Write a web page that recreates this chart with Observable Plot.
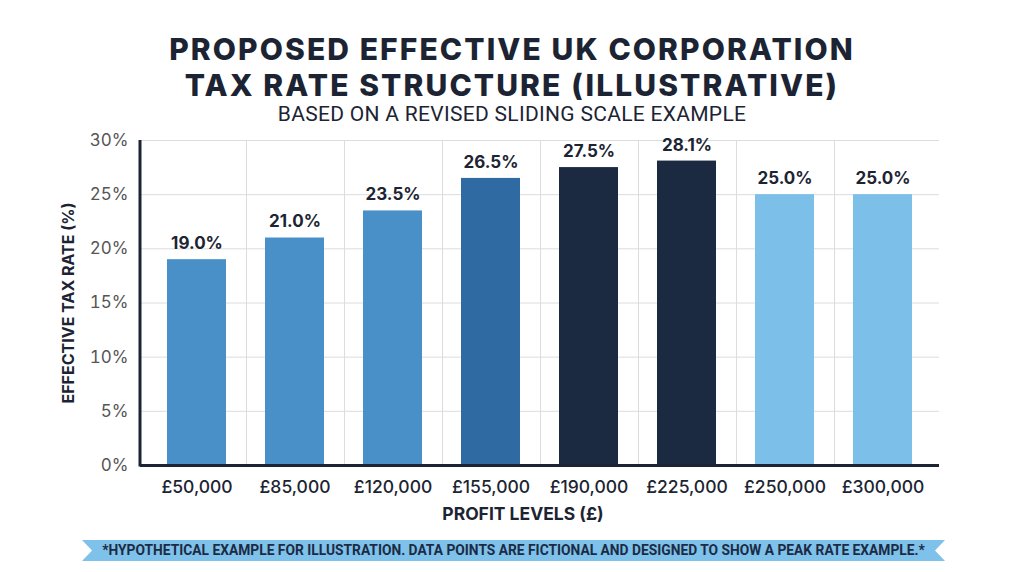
<!DOCTYPE html>
<html>
<head>
<meta charset="utf-8">
<script src="https://cdn.jsdelivr.net/npm/d3@7"></script>
<script src="https://cdn.jsdelivr.net/npm/@observablehq/plot@0.6"></script>
<style>
  body { margin: 0; background: #fff; width: 1024px; height: 572px; overflow: hidden; position: relative; font-family: Inter, "Open Sans", sans-serif; }
  #title { position: absolute; left: 0; top: 31px; width: 1024px; text-align: center; font-weight: 800; font-size: 30px; line-height: 36px; color: #1c2433; letter-spacing: 2.1px; }
  #subtitle { position: absolute; left: 0; top: 102px; width: 1024px; text-align: center; font-family: Roboto, sans-serif; font-weight: 400; font-size: 21px; line-height: 24px; color: #1c2433; letter-spacing: 0.3px; }
  #chart { position: absolute; left: 0; top: 125px; }
  #note { position: absolute; left: 82px; top: 540px; width: 863px; height: 21px; background: #7ec1ea;
          clip-path: polygon(0 0, 100% 0, calc(100% - 10px) 50%, 100% 100%, 0 100%, 10px 50%);
          font-family: Roboto, sans-serif; font-weight: 700; font-size: 13.8px; line-height: 21px; color: #1c2b45; text-align: center; }
</style>
</head>
<body>
<div id="title">PROPOSED EFFECTIVE UK CORPORATION<br>TAX RATE STRUCTURE (ILLUSTRATIVE)</div>
<div id="subtitle">BASED ON A REVISED SLIDING SCALE EXAMPLE</div>
<div id="chart"></div>
<div id="note">*HYPOTHETICAL EXAMPLE FOR ILLUSTRATION. DATA POINTS ARE FICTIONAL AND DESIGNED TO SHOW A PEAK RATE EXAMPLE.*</div>
<script>
// Profit levels and the illustrative effective rate at each
const profitLevels = ["£50,000", "£85,000", "£120,000", "£155,000", "£190,000", "£225,000", "£250,000", "£300,000"];
const effectiveRates = [19.0, 21.0, 23.5, 26.5, 27.5, 28.1, 25.0, 25.0];
// Which part of the scale each level falls in
const rateBands = ["taper", "taper", "taper", "upper", "peak", "peak", "main", "main"];
const yTicks = [0, 5, 10, 15, 20, 25, 30];

const rows = profitLevels.map((level, i) => ({level, rate: effectiveRates[i], band: rateBands[i]}));

const ink = "#1c2433";
const gridColor = "#dcdcdc";

// Separators between the profit bands
function bandFrame(index, scales, values, dims) {
  const x = scales.x;
  const g = d3.create("svg:g");
  const bw = x.bandwidth();
  const gap = x.step() - bw;
  const top = dims.marginTop, bottom = dims.height - dims.marginBottom;
  profitLevels.slice(0, -1).forEach(c => {
    const px = Math.round(x(c) + bw + gap / 2) + 0.5;
    g.append("line").attr("x1", px).attr("x2", px).attr("y1", top).attr("y2", bottom)
      .attr("stroke", gridColor).attr("stroke-width", 1);
  });
  return g.node();
}
// Heavy left axis line
function leftAxisLine(index, scales, values, dims) {
  const g = d3.create("svg:g");
  g.append("line").attr("x1", dims.marginLeft).attr("x2", dims.marginLeft)
    .attr("y1", dims.marginTop).attr("y2", dims.height - dims.marginBottom + 1.5)
    .attr("stroke", ink).attr("stroke-width", 3);
  return g.node();
}

const chart = Plot.plot({
  width: 1024,
  height: 405,
  marginTop: 15,
  marginBottom: 65,
  marginLeft: 140,
  marginRight: 85,
  style: {fontFamily: "Inter, 'Open Sans', sans-serif", background: "transparent"},
  x: {domain: profitLevels, paddingInner: 0.4, paddingOuter: 0.2, insetLeft: 6, insetRight: 7},
  y: {domain: [0, 30]},
  color: {domain: ["taper", "upper", "peak", "main"], range: ["#4a90c8", "#2f6ba2", "#1b2a41", "#7cbfe9"]},
  marks: [
    Plot.gridY(yTicks, {stroke: gridColor, strokeOpacity: 1, strokeWidth: 1}),
    bandFrame,
    Plot.barY(rows, {x: "level", y: "rate", fill: "band"}),
    Plot.text(rows, {x: "level", y: "rate", text: d => d.rate.toFixed(1) + "%", dy: -16,
      fontSize: 17, fontWeight: 700, fill: ink, style: "letter-spacing:0.4px"}),
    Plot.ruleY([0], {stroke: ink, strokeWidth: 3}),
    leftAxisLine,
    Plot.axisY(yTicks, {tickSize: 0, tickPadding: 12, tickFormat: d => d + "%", fontSize: 17, color: "#555", label: null}),
    Plot.axisX({tickSize: 0, tickPadding: 15, fontSize: 17.5, fontWeight: 500, color: ink, label: null}),
    // Axis titles
    Plot.text(["EFFECTIVE TAX RATE (%)"], {frameAnchor: "left", textAnchor: "middle", rotate: -90, dx: -72,
      fontSize: 16, fontWeight: 700, fill: ink, style: "letter-spacing:0.8px"}),
    Plot.text(["PROFIT LEVELS (£)"], {frameAnchor: "bottom", textAnchor: "middle", dx: -17, dy: 54, fontSize: 17.5,
      fontWeight: 700, fill: ink, style: "letter-spacing:1.2px"})
  ]
});
document.getElementById("chart").appendChild(chart);
</script>
</body>
</html>
